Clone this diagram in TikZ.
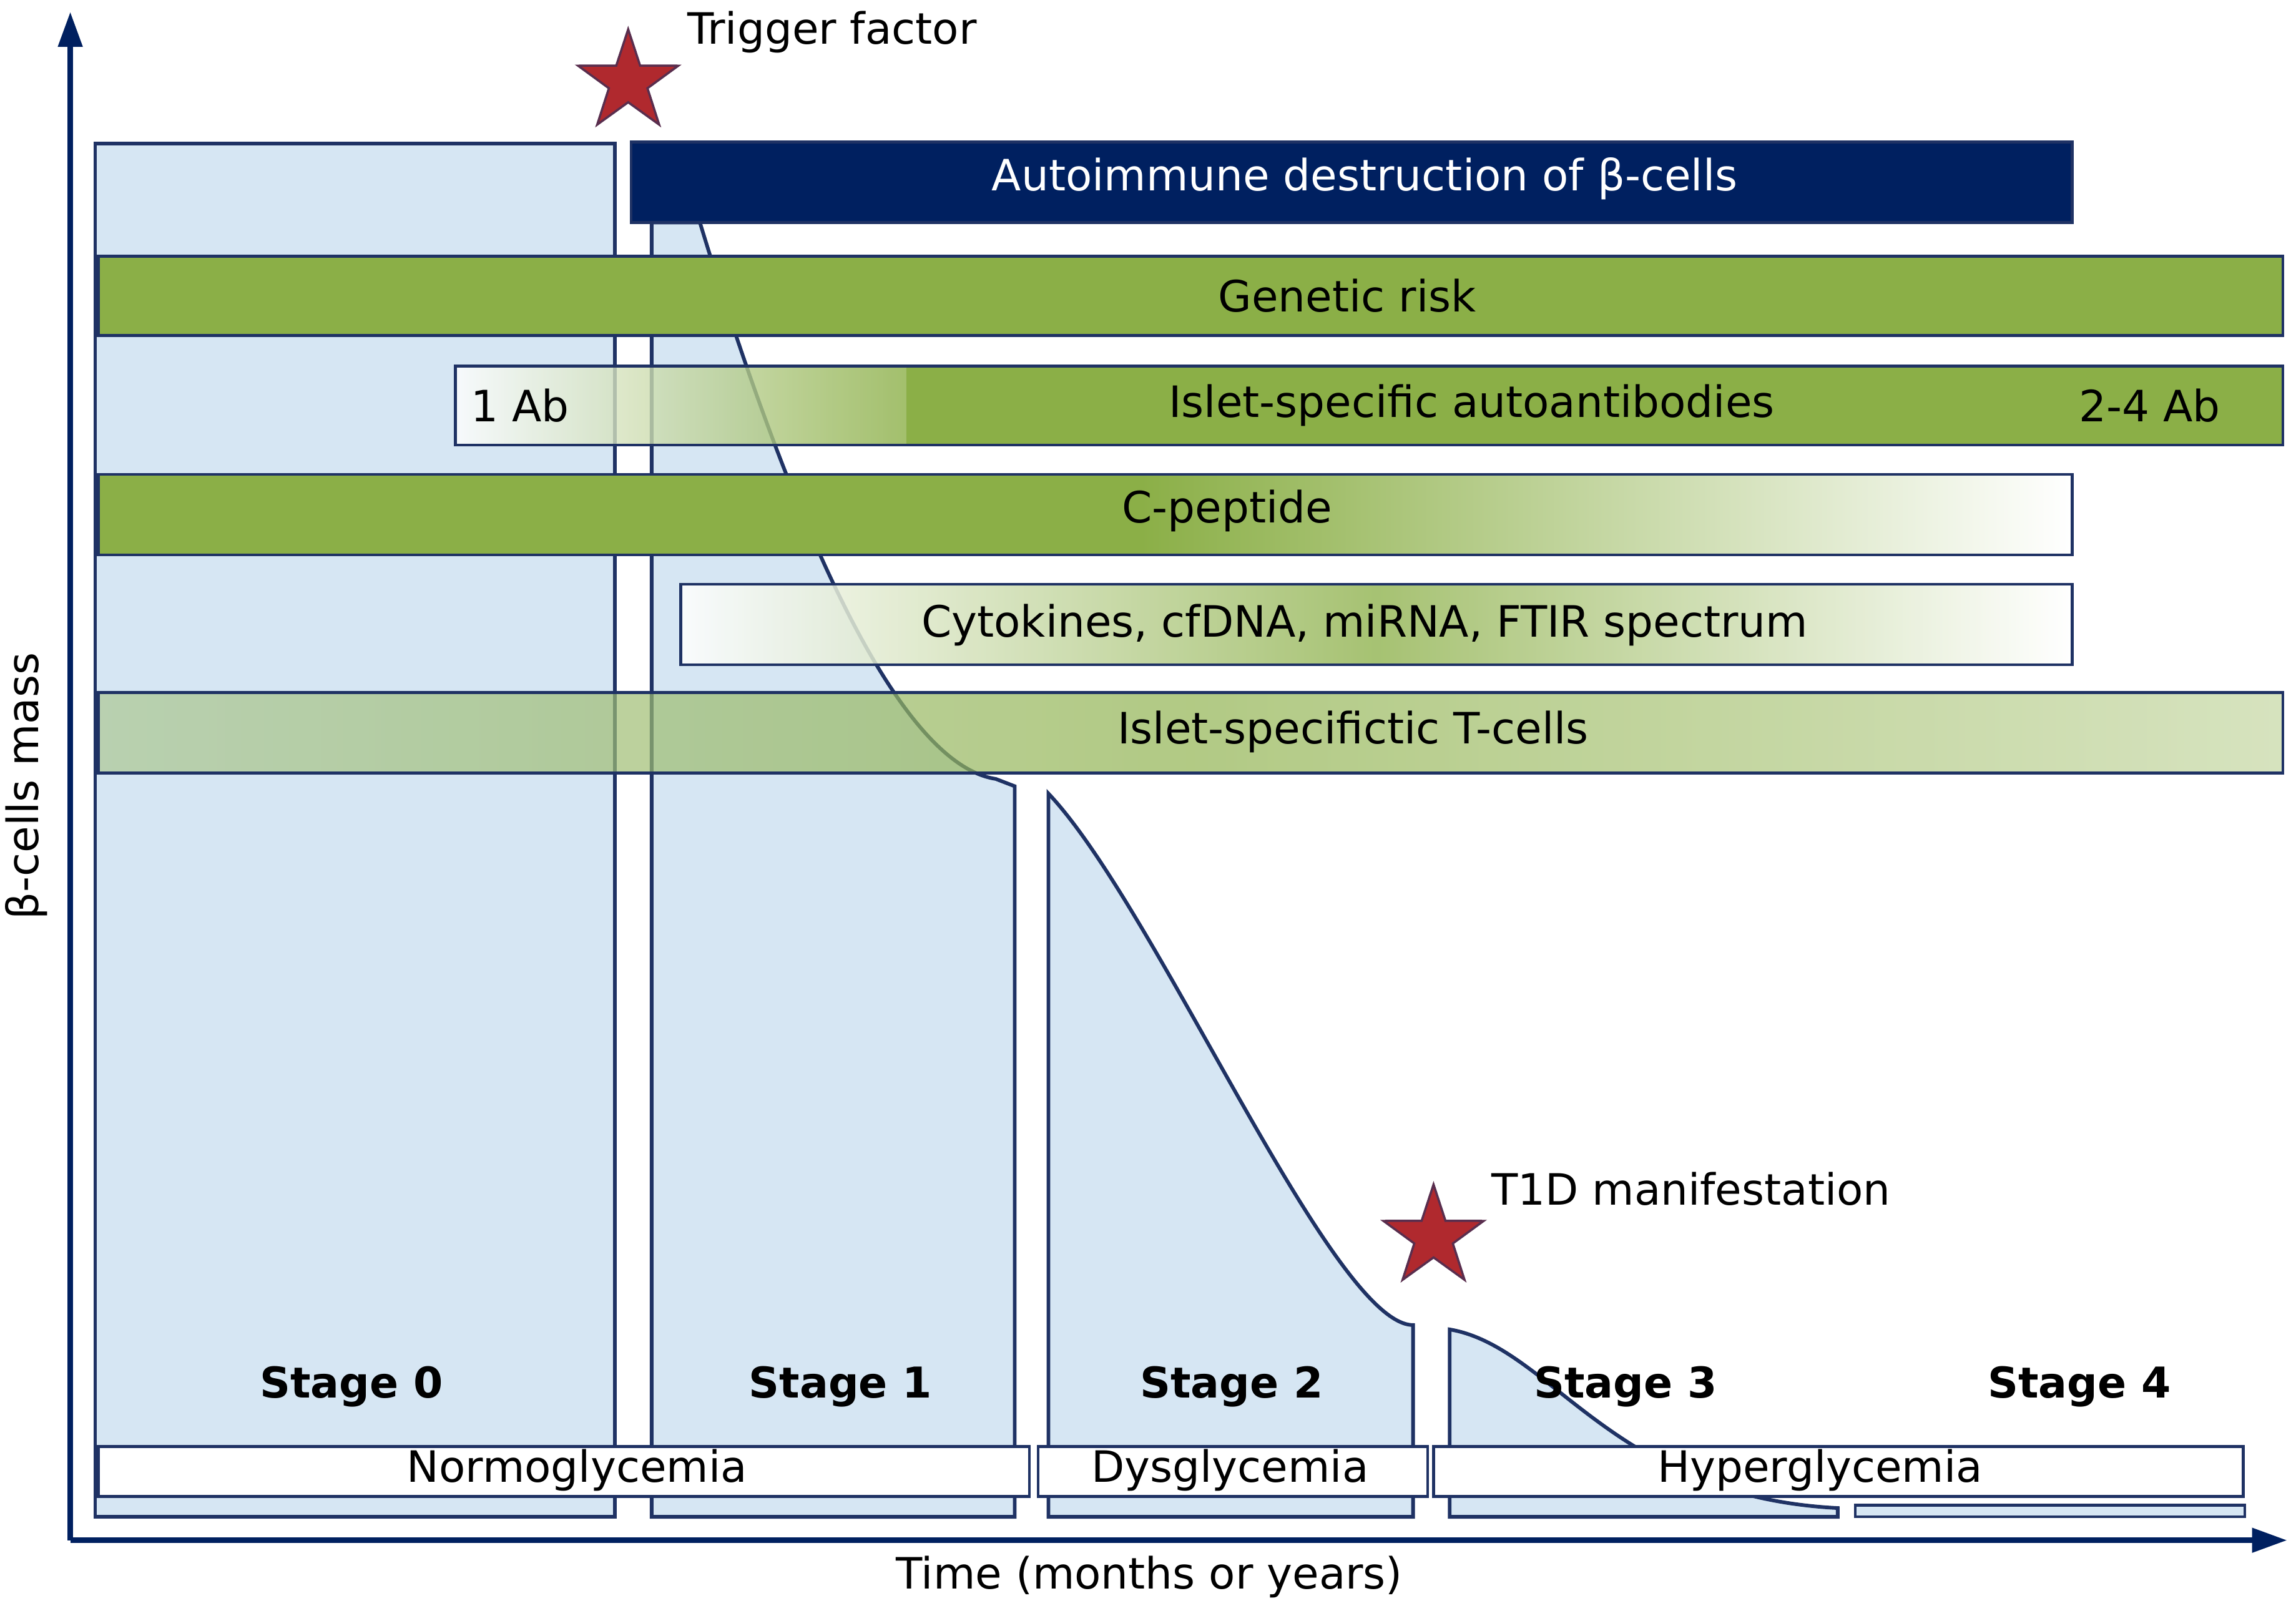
\documentclass[tikz,border=0pt]{standalone}
\usepackage{fontspec}
\setmainfont{DejaVu Sans}
\usetikzlibrary{shapes.geometric,arrows.meta}
\definecolor{navy}{HTML}{002060}
\definecolor{edge}{HTML}{1F3264}
\definecolor{lblue}{HTML}{D6E6F3}
\definecolor{grn}{HTML}{8BAF47}
\definecolor{starred}{HTML}{B0292E}
\begin{document}
\begin{tikzpicture}[x=1pt,y=-1pt,
  stagef/.style={fill=lblue,draw=edge,line width=2.5pt},
  bar/.style={draw=edge,line width=2pt},
  txt/.style={font=\fontsize{29.5}{34}\selectfont},
  stg/.style={font=\fontsize{29}{34}\selectfont\bfseries},
  glyc/.style={draw=edge,fill=white,line width=2pt,inner sep=0pt},
  st/.style={star,star points=5,star point ratio=2.6,fill=starred,draw=edge!60!starred,line width=1.5pt,minimum size=72pt,inner sep=0pt}]
\useasboundingbox (0,0) rectangle (1568,1100);
% stages
\path[stagef] (65,98) rectangle (420,1036);
\path[stagef] (445,1036) -- (445,152) -- (478,152) .. controls (520,290) and (600,520) .. (680,532) -- (693,537) -- (693,1036) -- cycle;
\path[stagef] (716,1036) -- (716,542) .. controls (790,620) and (910,905) .. (965,905) -- (965,1036) -- cycle;
\path[stagef] (990,1036) -- (990,908) .. controls (1060,920) and (1100,1022) .. (1255,1030) -- (1255,1036) -- cycle;
\path[stagef,line width=2pt] (1267,1028) rectangle (1533,1036);
% bars
\path[bar,fill=navy] (431,97) rectangle (1415,152);
\node[text=white,txt] (auto) at (932,122) {Autoimmune destruction of β-cells};
\path[bar,fill=grn] (67,175) rectangle (1559,229);
\node[txt] (gen) at (920,202) {Genetic risk};
\path[fill opacity=0.8,left color=white,right color=grn,shading angle=90] (311,250) rectangle (620,304);
\path[fill=grn] (619,250) rectangle (1559,304);
\draw[edge,line width=2pt] (311,250) rectangle (1559,304);
\node[txt] (ia) at (1005,277) {Islet-specific autoantibodies};
\node[txt] (ab1) at (355,277) {1 Ab};
\node[txt] (ab2) at (1468,277) {2-4 Ab};
\path[fill=grn] (67,324) rectangle (780,379);
\path[left color=grn,right color=white] (779,324) rectangle (1415,379);
\draw[edge,line width=2pt] (67,324) rectangle (1415,379);
\node[txt] (cp) at (838,349) {C-peptide};
\path[fill opacity=0.85,left color=white,right color=white,middle color=grn!90] (465,399) rectangle (1415,454);
\draw[edge,line width=2pt] (465,399) rectangle (1415,454);
\node[txt] (cy) at (932,427) {Cytokines, cfDNA, miRNA, FTIR spectrum};
\path[fill opacity=0.7,left color=grn!55!lblue,right color=grn!50,middle color=grn!95] (67,473) rectangle (1559,528);
\draw[edge,line width=2pt] (67,473) rectangle (1559,528);
\node[txt] (tc) at (924,500) {Islet-specifictic T-cells};
% stage labels
\node[stg] (s0) at (240,947) {Stage 0};
\node[stg] (s1) at (574,947) {Stage 1};
\node[stg] (s2) at (841,947) {Stage 2};
\node[stg] (s3) at (1110,947) {Stage 3};
\node[stg] (s4) at (1420,947) {Stage 4};
% glycemia boxes
\path[glyc] (67,988) rectangle (703,1022);
\node[txt] (ng) at (394,1004) {Normoglycemia};
\path[glyc] (709,988) rectangle (975,1022);
\node[txt] (dg) at (840,1004) {Dysglycemia};
\path[glyc] (979,988) rectangle (1532,1022);
\node[txt] (hg) at (1243,1004) {Hyperglycemia};
% axes
\coordinate (o) at (48,1052);
\coordinate (ytop) at (48,8);
\coordinate (xend) at (1562,1052);
\draw[navy,line width=4pt,-{Triangle[length=24pt,width=16pt]}] (o) -- (ytop);
\draw[navy,line width=4pt,-{Triangle[length=24pt,width=16pt]}] (o) -- (xend);
\node[txt,rotate=90] (yl) at (18,537) {β-cells mass};
\node[txt] (xl) at (785,1077) {Time (months or years)};
% stars
\node[st] (tr) at (429,56) {};
\node[txt,anchor=west] (trl) at (466,22) {Trigger factor};
\node[st] (t1) at (979,845) {};
\node[txt,anchor=west] (t1l) at (1015,812) {T1D manifestation};
\end{tikzpicture}
\end{document}
